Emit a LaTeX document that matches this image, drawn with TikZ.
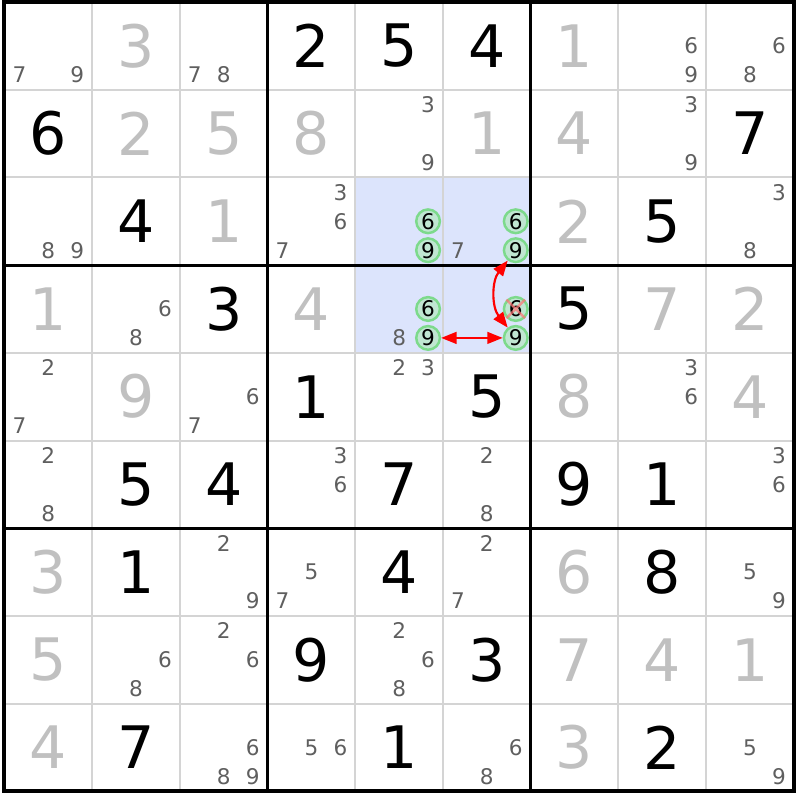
\documentclass[tikz,border=0pt]{standalone}
\usepackage{fontspec}
\setmainfont{DejaVu Sans}
\usepackage{xcolor}
\usepackage{tikz}
\usetikzlibrary{arrows.meta}

\definecolor{hilite}{RGB}{220,228,252}
\definecolor{thingrid}{RGB}{212,212,212}
\definecolor{pencil}{RGB}{95,95,95}
\definecolor{filledin}{RGB}{192,192,192}
\definecolor{ringline}{RGB}{125,218,140}
\definecolor{ringfill}{RGB}{192,230,210}

\tikzset{
  clue/.style={font=\fontsize{19}{20}\selectfont, text=black, inner sep=0pt},
  solved/.style={font=\fontsize{19}{20}\selectfont, text=filledin, inner sep=0pt},
  cand/.style={font=\fontsize{7}{8}\selectfont, text=pencil, inner sep=0pt},
  ring/.style={cand, text=black, circle, draw=ringline, fill=ringfill,
    line width=0.8pt, minimum size=0.27cm},
  link/.style={red, line width=0.7pt,
    {Triangle[length=5pt,width=3.8pt]}-{Triangle[length=5pt,width=3.8pt]}},
  strike/.style={red!55, line width=0.8pt, opacity=0.7},
}

% big digit in a cell: row, column, digit
\newcommand{\clue}[3]{\node[clue] (r#1c#2) at (#2-0.5,9.5-#1) {#3};}
\newcommand{\solved}[3]{\node[solved] (r#1c#2) at (#2-0.5,9.5-#1) {#3};}
% pencil marks: [style] row, column, list of digits
\newcommand{\cands}[4][cand]{%
  \foreach \dg in {#4}{%
    \pgfmathsetmacro\dx{(mod(\dg-1,3)-1)*0.33}%
    \pgfmathsetmacro\dy{(1-floor((\dg-1)/3))*0.33}%
    \node[#1] (r#2c#3d\dg) at (#3-0.5+\dx,9.5-#2+\dy) {\dg};
  }}

\begin{document}
\begin{tikzpicture}
  \useasboundingbox (-0.051,-0.099) rectangle (9.071,9.023);

  \fill[hilite] (4,5) rectangle (6,7);
  \draw[thingrid, line width=0.65pt] (0,0) grid (9,9);
  \foreach \i in {3,6} {
    \draw[black, line width=1pt] (\i,0) -- (\i,9);
    \draw[black, line width=1pt] (0,\i) -- (9,\i);
  }
  \draw[black, line width=1.3pt] (0,0) rectangle (9,9);

  % row 1
  \cands{1}{1}{7,9}   \solved{1}{2}{3}  \cands{1}{3}{7,8}
  \clue{1}{4}{2}      \clue{1}{5}{5}    \clue{1}{6}{4}
  \solved{1}{7}{1}    \cands{1}{8}{6,9} \cands{1}{9}{6,8}
  % row 2
  \clue{2}{1}{6}      \solved{2}{2}{2}  \solved{2}{3}{5}
  \solved{2}{4}{8}    \cands{2}{5}{3,9} \solved{2}{6}{1}
  \solved{2}{7}{4}    \cands{2}{8}{3,9} \clue{2}{9}{7}
  % row 3
  \cands{3}{1}{8,9}   \clue{3}{2}{4}    \solved{3}{3}{1}
  \cands{3}{4}{3,6,7} \cands[ring]{3}{5}{6,9}
  \cands{3}{6}{7}     \cands[ring]{3}{6}{6,9}
  \solved{3}{7}{2}    \clue{3}{8}{5}    \cands{3}{9}{3,8}
  % row 4
  \solved{4}{1}{1}    \cands{4}{2}{6,8} \clue{4}{3}{3}
  \solved{4}{4}{4}    \cands{4}{5}{8}   \cands[ring]{4}{5}{6,9}
  \cands[ring]{4}{6}{6,9}
  \clue{4}{7}{5}      \solved{4}{8}{7}  \solved{4}{9}{2}
  % row 5
  \cands{5}{1}{2,7}   \solved{5}{2}{9}  \cands{5}{3}{6,7}
  \clue{5}{4}{1}      \cands{5}{5}{2,3} \clue{5}{6}{5}
  \solved{5}{7}{8}    \cands{5}{8}{3,6} \solved{5}{9}{4}
  % row 6
  \cands{6}{1}{2,8}   \clue{6}{2}{5}    \clue{6}{3}{4}
  \cands{6}{4}{3,6}   \clue{6}{5}{7}    \cands{6}{6}{2,8}
  \clue{6}{7}{9}      \clue{6}{8}{1}    \cands{6}{9}{3,6}
  % row 7
  \solved{7}{1}{3}    \clue{7}{2}{1}    \cands{7}{3}{2,9}
  \cands{7}{4}{5,7}   \clue{7}{5}{4}    \cands{7}{6}{2,7}
  \solved{7}{7}{6}    \clue{7}{8}{8}    \cands{7}{9}{5,9}
  % row 8
  \solved{8}{1}{5}    \cands{8}{2}{6,8} \cands{8}{3}{2,6}
  \clue{8}{4}{9}      \cands{8}{5}{2,6,8} \clue{8}{6}{3}
  \solved{8}{7}{7}    \solved{8}{8}{4}  \solved{8}{9}{1}
  % row 9
  \solved{9}{1}{4}    \clue{9}{2}{7}    \cands{9}{3}{6,8,9}
  \cands{9}{4}{5,6}   \clue{9}{5}{1}    \cands{9}{6}{6,8}
  \solved{9}{7}{3}    \clue{9}{8}{2}    \cands{9}{9}{5,9}

  % eliminated candidate
  \draw[strike] (r4c6d6.north west) -- (r4c6d6.south east)
                (r4c6d6.north east) -- (r4c6d6.south west);

  \draw[link] (r4c5d9) -- (r4c6d9);
  \draw[link] (r3c6d9) to[bend right=38] (r4c6d9);
\end{tikzpicture}
\end{document}
